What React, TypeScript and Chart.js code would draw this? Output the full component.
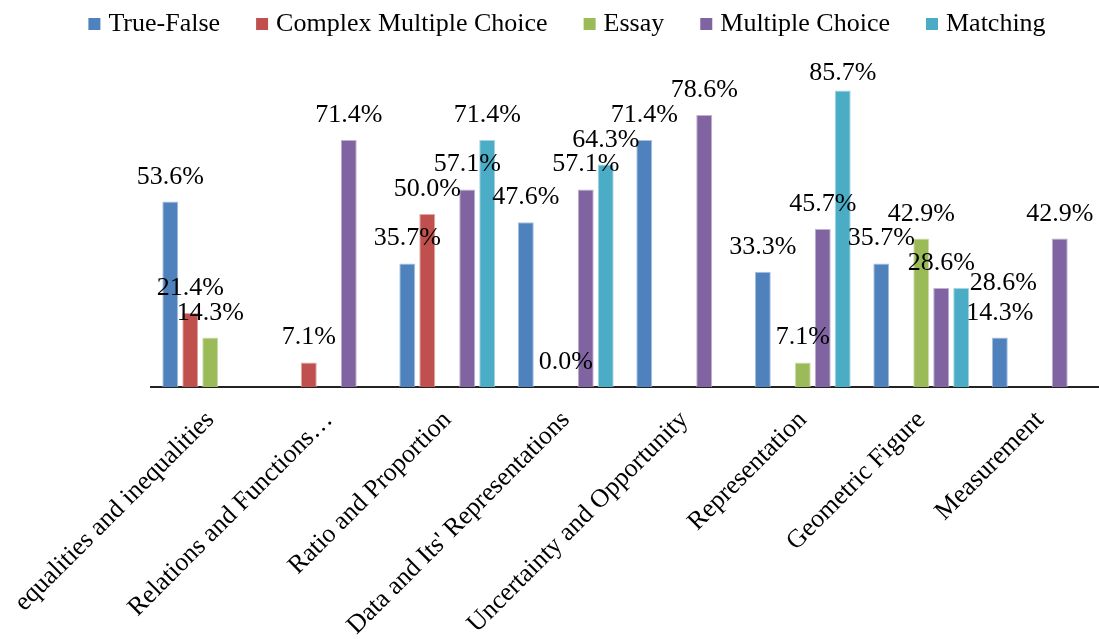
import React, { useEffect, useRef } from "react";
import { Chart, registerables } from "chart.js";

Chart.register(...registerables);

const categories = [
  "equalities and inequalities",
  "Relations and Functions…",
  "Ratio and Proportion",
  "Data and Its' Representations",
  "Uncertainty and Opportunity",
  "Representation",
  "Geometric Figure",
  "Measurement",
];

const seriesNames = ["True-False", "Complex Multiple Choice", "Essay", "Multiple Choice", "Matching"];

const trueFalse = [53.6, null, 35.7, 47.6, 71.4, 33.3, 35.7, 14.3];
const complexMultipleChoice = [21.4, 7.1, 50.0, null, null, null, null, null];
const essay = [14.3, null, null, 0.0, null, 7.1, 42.9, null];
const multipleChoice = [null, 71.4, 57.1, 57.1, 78.6, 45.7, 28.6, 42.9];
const matching = [null, null, 71.4, 64.3, null, 85.7, 28.6, null];

const seriesColors = ["#4F81BD", "#C0504D", "#9BBB59", "#8064A2", "#4BACC6"];
const seriesBorders = ["#A7C0DE", "#E0A8A6", "#CDDDAC", "#BFB1D0", "#A5D5E2"];

// style: manual nudges of a few value labels (dx, dy), keyed "series-category"
const labelNudges: Record<string, [number, number]> = {
  "4-5": [0, 8],
  "4-6": [42, 20],
};

const FONT = "'Liberation Serif', 'Times New Roman', serif";

const valueLabels = {
  id: "valueLabels",
  afterDatasetsDraw(chart: any) {
    const ctx = chart.ctx;
    ctx.save();
    ctx.font = `26px ${FONT}`;
    ctx.fillStyle = "#000";
    ctx.textAlign = "center";
    ctx.textBaseline = "alphabetic";
    chart.data.datasets.forEach((ds: any, di: number) => {
      const meta = chart.getDatasetMeta(di);
      meta.data.forEach((bar: any, i: number) => {
        const v = ds.data[i];
        if (v === null || v === undefined) return;
        const [dx, dy] = labelNudges[`${di}-${i}`] || [0, 0];
        ctx.fillText(v.toFixed(1) + "%", bar.x + dx, bar.y - 18 + dy);
      });
    });
    ctx.restore();
  },
};

const topLegend = {
  id: "topLegend",
  afterDraw(chart: any) {
    const ctx = chart.ctx;
    ctx.save();
    ctx.font = `26px ${FONT}`;
    ctx.textBaseline = "alphabetic";
    ctx.textAlign = "left";
    const box = 12;
    const gap = 8;
    const spacing = 36;
    const widths = seriesNames.map((n) => box + gap + ctx.measureText(n).width);
    const total = widths.reduce((a, b) => a + b, 0) + spacing * (widths.length - 1);
    let x = 567 - total / 2;
    seriesNames.forEach((n, i) => {
      ctx.fillStyle = seriesColors[i];
      ctx.fillRect(x, 18, box, box);
      ctx.fillStyle = "#000";
      ctx.fillText(n, x + box + gap, 31);
      x += widths[i] + spacing;
    });
    ctx.restore();
  },
};

export default function App() {
  const ref = useRef<HTMLCanvasElement | null>(null);

  useEffect(() => {
    if (!ref.current) return;
    const data = [trueFalse, complexMultipleChoice, essay, multipleChoice, matching];
    const chart = new Chart(ref.current, {
      type: "bar",
      data: {
        labels: categories,
        datasets: data.map((d, i) => ({
          label: seriesNames[i],
          data: d,
          backgroundColor: seriesColors[i],
          borderColor: seriesBorders[i],
          borderWidth: { left: 1, right: 1, top: 1, bottom: 0 },
          categoryPercentage: 0.843,
          barPercentage: 0.8,
        })),
      },
      options: {
        responsive: false,
        animation: false,
        layout: { padding: { top: 41, right: 0, bottom: 0, left: 151 } },
        plugins: {
          legend: { display: false },
          tooltip: { enabled: false },
        },
        scales: {
          x: {
            grid: { display: false, drawTicks: false },
            border: { display: true, color: "#222", width: 2 },
            ticks: {
              autoSkip: false,
              maxRotation: 45,
              minRotation: 45,
              color: "#000",
              padding: 18,
              font: { family: FONT, size: 26 },
            },
            afterFit: (scale: any) => {
              scale.height = 252;
              scale.paddingLeft = 0;
              scale.paddingRight = 0;
            },
          },
          y: {
            display: false,
            min: 0,
            max: 100,
          },
        },
      },
      plugins: [valueLabels, topLegend],
    });
    return () => chart.destroy();
  }, []);

  return (
    <div style={{ position: "absolute", left: 0, top: 0, width: 1099, height: 639, overflow: "hidden", background: "#fff" }}>
      <canvas ref={ref} width={1099} height={639} />
    </div>
  );
}
